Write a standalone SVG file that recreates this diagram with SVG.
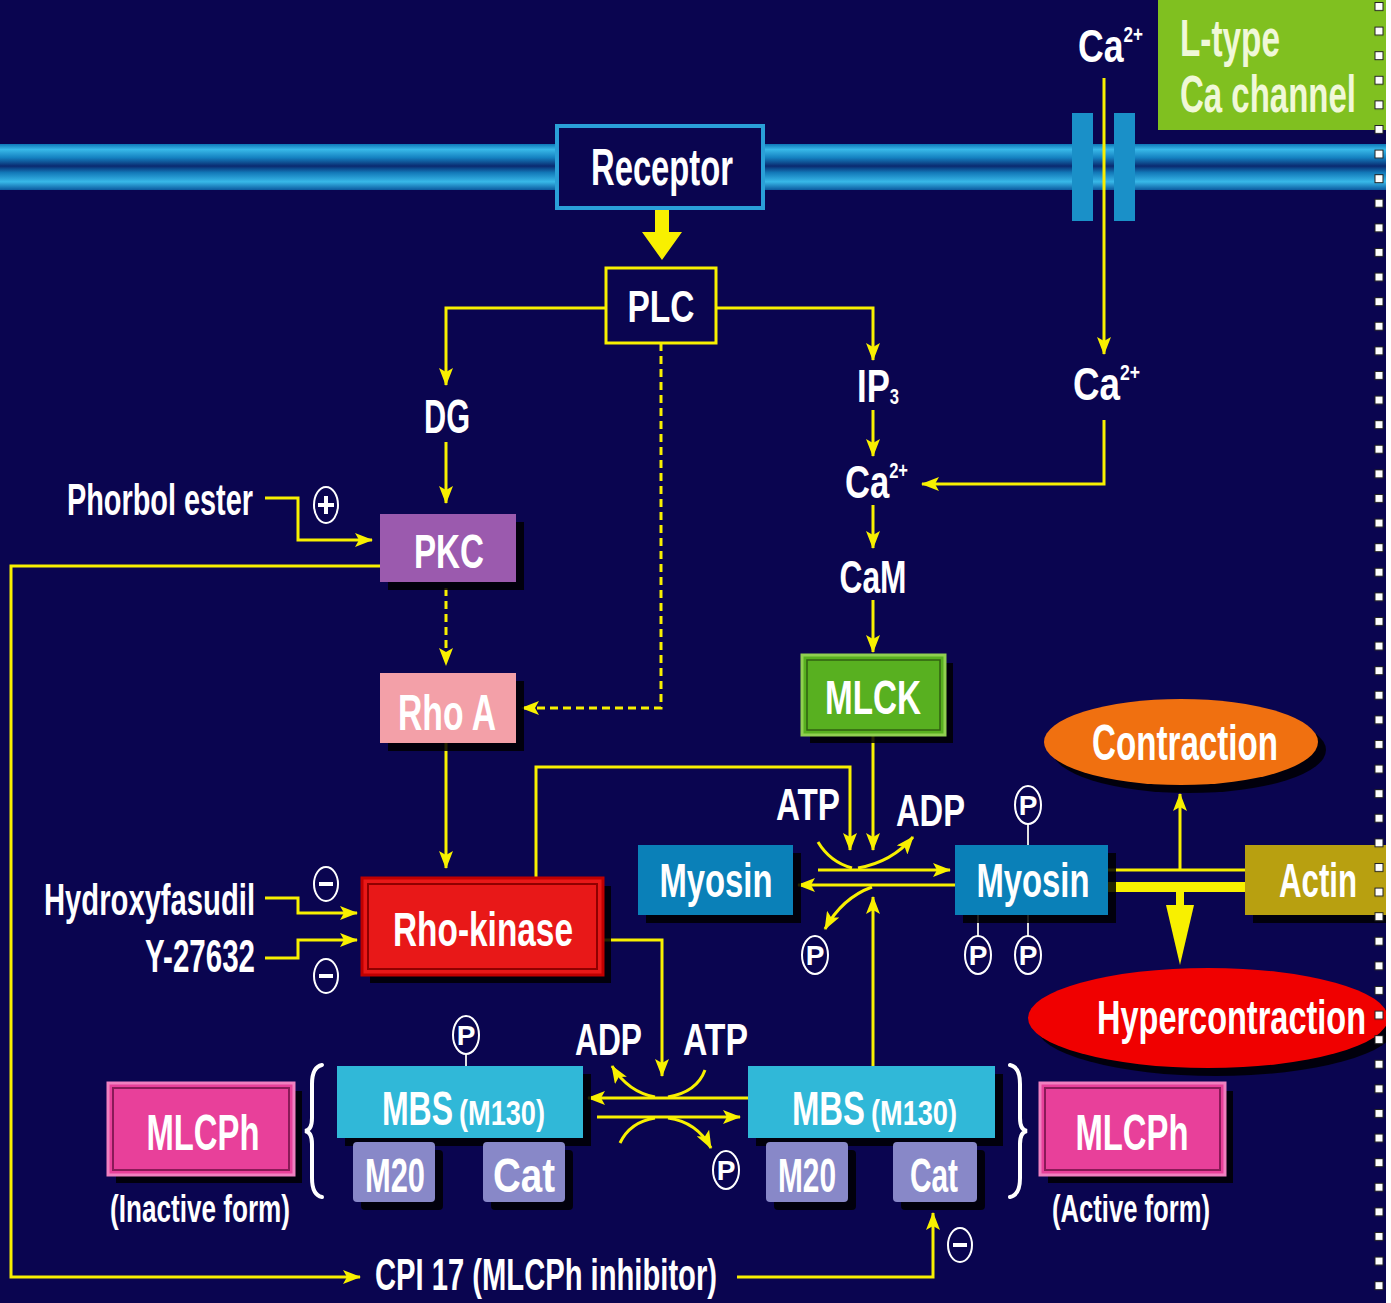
<svg xmlns="http://www.w3.org/2000/svg" width="1391" height="1303" viewBox="0 0 1391 1303">
<defs>
<linearGradient id="mem" x1="0" y1="0" x2="0" y2="1">
<stop offset="0" stop-color="#0e78b8"/>
<stop offset="0.12" stop-color="#38b8e8"/>
<stop offset="0.3" stop-color="#1480c0"/>
<stop offset="0.48" stop-color="#0a2a70"/>
<stop offset="0.62" stop-color="#1278b8"/>
<stop offset="0.82" stop-color="#38b8e8"/>
<stop offset="1" stop-color="#0c5aa0"/>
</linearGradient>
<pattern id="dots" x="1374" y="2" width="12" height="24.6" patternUnits="userSpaceOnUse">
<rect x="1" y="0.5" width="8" height="8" fill="#ffffff" stroke="#222222" stroke-width="1"/>
</pattern>
<clipPath id="clipMain"><rect x="0" y="0" width="1386" height="1303"/></clipPath>
<marker id="ah" viewBox="0 0 18 14" refX="17" refY="7" markerWidth="18" markerHeight="14" markerUnits="userSpaceOnUse" orient="auto">
<path d="M0,0 L18,7 L0,14 L4,7 z" fill="#f8f000"/>
</marker>
<style>
.bg{fill:#0a0550}
.t{font-family:"Liberation Sans Narrow","Liberation Sans",Arial,sans-serif;font-weight:bold;fill:#ffffff}
.c{text-anchor:middle}
.ln{fill:none;stroke:#f8f000;stroke-width:3}
.dash{stroke-dasharray:8 5}
.arr{marker-end:url(#ah)}
.sh{fill:#000000;opacity:0.85}
.pc{fill:#0a0550;stroke:#ffffff;stroke-width:2}
.pl{stroke:#e0e0e0;stroke-width:2}
.br{fill:none;stroke:#ffffff;stroke-width:4;stroke-linecap:round}
.mb{fill:#30b8d8}
.sub{fill:#8888c8}
.my{fill:#0a80b8}
</style>
</defs>
<rect class="bg" x="0" y="0" width="1391" height="1303"/>

<g clip-path="url(#clipMain)">
<g id="membrane">
<rect x="0" y="144" width="1386" height="46" fill="url(#mem)"/>
</g>

<g id="l-type-channel">
<rect x="1072" y="113" width="21" height="108" fill="#1a90c8"/>
<rect x="1114" y="113" width="21" height="108" fill="#1a90c8"/>
<rect x="1158" y="0" width="228" height="130" fill="#80c020"/>
<text class="t" x="1180" y="56" font-size="52" style="fill:#f0f8d8" textLength="100" lengthAdjust="spacingAndGlyphs">L-type</text>
<text class="t" x="1180" y="112" font-size="52" style="fill:#f0f8d8" textLength="176" lengthAdjust="spacingAndGlyphs">Ca channel</text>
</g>

<g id="connectors">
<polygon points="655,208 669,208 669,232 682,232 662,260 642,232 655,232" fill="#f8f000"/>
<polyline class="ln arr" points="605,308 446,308 446,385"/>
<line class="ln arr" x1="446" y1="442" x2="446" y2="503"/>
<polyline class="ln arr" points="716,308 873,308 873,360"/>
<line class="ln arr" x1="873" y1="410" x2="873" y2="456"/>
<line class="ln arr" x1="873" y1="505" x2="873" y2="548"/>
<line class="ln arr" x1="873" y1="600" x2="873" y2="652"/>
<line class="ln arr" x1="1104" y1="78" x2="1104" y2="354"/>
<polyline class="ln arr" points="1104,420 1104,484 922,484"/>
<polyline class="ln dash arr" points="661,343 661,708 522,708"/>
<polyline class="ln arr" points="265,498 298,498 298,540 372,540"/>
<polyline class="ln arr" points="380,566 11,566 11,1277 360,1277"/>
<line class="ln dash arr" x1="446" y1="588" x2="446" y2="665"/>
<line class="ln arr" x1="446" y1="743" x2="446" y2="868"/>
<polyline class="ln arr" points="265,898 298,898 298,913 357,913"/>
<polyline class="ln arr" points="265,958 298,958 298,940 357,940"/>
<polyline class="ln arr" points="536,878 536,767 850,767 850,850"/>
<line class="ln arr" x1="873" y1="735" x2="873" y2="850"/>
<polyline class="ln arr" points="603,940 662,940 662,1076"/>
<line class="ln arr" x1="873" y1="1066" x2="873" y2="897"/>
<line class="ln arr" x1="818" y1="870" x2="950" y2="870"/>
<line class="ln arr" x1="955" y1="885" x2="798" y2="885"/>
<path class="ln" d="M818,842 Q830,862 852,868"/>
<path class="ln arr" d="M858,868 Q892,862 913,837"/>
<path class="ln arr" d="M872,887 Q842,898 825,929"/>
<line class="ln" x1="1108" y1="870" x2="1245" y2="870"/>
<line x1="1108" y1="887" x2="1245" y2="887" stroke="#f8f000" stroke-width="10"/>
<line class="ln arr" x1="1180" y1="870" x2="1180" y2="794"/>
<rect x="1176" y="890" width="8" height="16" fill="#f8f000"/>
<polygon points="1166,905 1194,905 1180,965" fill="#f8f000"/>
<line class="ln arr" x1="748" y1="1098" x2="588" y2="1098"/>
<line class="ln arr" x1="597" y1="1117" x2="740" y2="1117"/>
<path class="ln" d="M705,1070 Q697,1092 668,1097"/>
<path class="ln arr" d="M655,1097 Q628,1092 612,1066"/>
<path class="ln" d="M620,1143 Q630,1122 655,1118"/>
<path class="ln arr" d="M668,1118 Q697,1122 711,1148"/>
<polyline class="ln arr" points="737,1277 933,1277 933,1213"/>
<line class="pl" x1="466" y1="1054" x2="466" y2="1066"/>
<line class="pl" x1="1028" y1="824" x2="1028" y2="845"/>
<line class="pl" x1="978" y1="915" x2="978" y2="936"/>
<line class="pl" x1="1028" y1="915" x2="1028" y2="936"/>
</g>

<g id="receptor">
<rect x="557" y="126" width="206" height="82" fill="#0a0550" stroke="#2aa0d8" stroke-width="4"/>
<text class="t c" x="662" y="185" font-size="52" textLength="142" lengthAdjust="spacingAndGlyphs">Receptor</text>
</g>

<g id="plc">
<rect x="606" y="268" width="110" height="75" fill="#0a0550" stroke="#f8f000" stroke-width="3"/>
<text class="t c" x="661" y="322" font-size="45" textLength="67" lengthAdjust="spacingAndGlyphs">PLC</text>
</g>

<g id="dg">
<text class="t c" x="447" y="433" font-size="48" textLength="46" lengthAdjust="spacingAndGlyphs">DG</text>
</g>

<g id="ip3">
<text class="t" x="857" y="402" font-size="46" textLength="42" lengthAdjust="spacingAndGlyphs">IP<tspan font-size="22" dy="2">3</tspan></text>
</g>

<g id="ca-mid">
<text class="t" x="845" y="498" font-size="46" textLength="63" lengthAdjust="spacingAndGlyphs">Ca<tspan font-size="22" dy="-20">2+</tspan></text>
</g>

<g id="cam">
<text class="t c" x="873" y="593" font-size="46" textLength="67" lengthAdjust="spacingAndGlyphs">CaM</text>
</g>

<g id="ca-top">
<text class="t" x="1078" y="62" font-size="46" textLength="65" lengthAdjust="spacingAndGlyphs">Ca<tspan font-size="22" dy="-20">2+</tspan></text>
</g>

<g id="ca-right">
<text class="t" x="1073" y="400" font-size="46" textLength="67" lengthAdjust="spacingAndGlyphs">Ca<tspan font-size="22" dy="-20">2+</tspan></text>
</g>

<g id="phorbol-ester">
<text class="t" x="67" y="515" font-size="44" textLength="186" lengthAdjust="spacingAndGlyphs">Phorbol ester</text>
<ellipse class="pc" cx="326" cy="505" rx="12" ry="18"/>
<rect x="318" y="503" width="16" height="4" fill="#ffffff"/>
<rect x="324" y="496" width="4" height="18" fill="#ffffff"/>
</g>

<g id="pkc">
<rect class="sh" x="388" y="522" width="136" height="68"/>
<rect x="380" y="514" width="136" height="68" fill="#9b5aae"/>
<text class="t c" x="449" y="568" font-size="48" textLength="70" lengthAdjust="spacingAndGlyphs">PKC</text>
</g>

<g id="rho-a">
<rect class="sh" x="388" y="681" width="136" height="70"/>
<rect x="380" y="673" width="136" height="70" fill="#f3a0a8"/>
<text class="t c" x="447" y="730" font-size="50" textLength="98" lengthAdjust="spacingAndGlyphs">Rho A</text>
</g>

<g id="mlck">
<rect class="sh" x="810" y="663" width="143" height="80"/>
<rect x="802" y="655" width="143" height="80" fill="#58b020" stroke="#90d050" stroke-width="3"/>
<rect x="807" y="660" width="133" height="70" fill="none" stroke="#306010" stroke-width="1.5"/>
<text class="t c" x="873" y="714" font-size="48" textLength="96" lengthAdjust="spacingAndGlyphs">MLCK</text>
</g>

<g id="hydroxyfasudil">
<text class="t" x="44" y="915" font-size="44" textLength="211" lengthAdjust="spacingAndGlyphs">Hydroxyfasudil</text>
<ellipse class="pc" cx="326" cy="884" rx="12" ry="17"/>
<rect x="319" y="882" width="14" height="4" fill="#ffffff"/>
</g>

<g id="y-27632">
<text class="t" x="145" y="972" font-size="46" textLength="110" lengthAdjust="spacingAndGlyphs">Y-27632</text>
<ellipse class="pc" cx="326" cy="976" rx="12" ry="17"/>
<rect x="319" y="974" width="14" height="4" fill="#ffffff"/>
</g>

<g id="rho-kinase">
<rect class="sh" x="370" y="886" width="241" height="97"/>
<rect x="362" y="878" width="241" height="97" fill="#e81818" stroke="#c00000" stroke-width="3"/>
<rect x="368" y="884" width="229" height="85" fill="none" stroke="#900000" stroke-width="2"/>
<text class="t c" x="483" y="946" font-size="48" textLength="180" lengthAdjust="spacingAndGlyphs">Rho-kinase</text>
</g>

<g id="atp-adp-top">
<text class="t" x="776" y="820" font-size="44" textLength="64" lengthAdjust="spacingAndGlyphs">ATP</text>
<text class="t" x="896" y="826" font-size="44" textLength="69" lengthAdjust="spacingAndGlyphs">ADP</text>
</g>

<g id="myosin-left">
<rect class="sh" x="646" y="853" width="155" height="70"/>
<rect class="my" x="638" y="845" width="155" height="70"/>
<text class="t c" x="716" y="897" font-size="48" textLength="113" lengthAdjust="spacingAndGlyphs">Myosin</text>
<ellipse class="pc" cx="815" cy="955" rx="13" ry="19"/>
<text class="t c" x="815" y="965" font-size="28">P</text>
</g>

<g id="myosin-right">
<rect class="sh" x="963" y="853" width="153" height="70"/>
<rect class="my" x="955" y="845" width="153" height="70"/>
<text class="t c" x="1033" y="897" font-size="48" textLength="113" lengthAdjust="spacingAndGlyphs">Myosin</text>
<ellipse class="pc" cx="1028" cy="805" rx="13" ry="19"/>
<text class="t c" x="1028" y="815" font-size="28">P</text>
<ellipse class="pc" cx="978" cy="955" rx="13" ry="19"/>
<text class="t c" x="978" y="965" font-size="28">P</text>
<ellipse class="pc" cx="1028" cy="955" rx="13" ry="19"/>
<text class="t c" x="1028" y="965" font-size="28">P</text>
</g>

<g id="actin">
<rect class="sh" x="1253" y="853" width="133" height="70"/>
<rect x="1245" y="845" width="141" height="70" fill="#b8a010"/>
<text class="t c" x="1318" y="897" font-size="48" textLength="78" lengthAdjust="spacingAndGlyphs">Actin</text>
</g>

<g id="contraction">
<ellipse cx="1189" cy="750" rx="137" ry="43" fill="#000000" opacity="0.85"/>
<ellipse cx="1181" cy="742" rx="137" ry="43" fill="#f07010"/>
<text class="t c" x="1185" y="760" font-size="50" textLength="186" lengthAdjust="spacingAndGlyphs">Contraction</text>
</g>

<g id="hypercontraction">
<ellipse cx="1216" cy="1026" rx="180" ry="50" fill="#000000" opacity="0.85"/>
<ellipse cx="1208" cy="1018" rx="180" ry="50" fill="#f00000"/>
<text class="t" x="1097" y="1034" font-size="48" textLength="269" lengthAdjust="spacingAndGlyphs">Hypercontraction</text>
</g>

<g id="atp-adp-bottom">
<text class="t" x="575" y="1055" font-size="44" textLength="67" lengthAdjust="spacingAndGlyphs">ADP</text>
<text class="t" x="683" y="1055" font-size="44" textLength="65" lengthAdjust="spacingAndGlyphs">ATP</text>
<ellipse class="pc" cx="726" cy="1170" rx="13" ry="19"/>
<text class="t c" x="726" y="1180" font-size="28">P</text>
</g>

<g id="mbs-inactive">
<path class="br" d="M322,1065 Q312,1067 312,1084 L312,1118 Q312,1130 305,1131 Q312,1132 312,1144 L312,1178 Q312,1195 322,1197"/>
<rect class="sh" x="345" y="1074" width="246" height="72"/>
<rect class="mb" x="337" y="1066" width="246" height="72"/>
<text class="t" x="382" y="1125" font-size="48" textLength="71" lengthAdjust="spacingAndGlyphs">MBS</text>
<text class="t" x="459" y="1125" font-size="35" textLength="86" lengthAdjust="spacingAndGlyphs">(M130)</text>
<rect class="sh" x="361" y="1150" width="82" height="60" rx="4"/>
<rect class="sub" x="353" y="1142" width="82" height="60" rx="4"/>
<text class="t c" x="395" y="1192" font-size="48" textLength="60" lengthAdjust="spacingAndGlyphs">M20</text>
<rect class="sh" x="491" y="1150" width="82" height="60" rx="4"/>
<rect class="sub" x="483" y="1142" width="82" height="60" rx="4"/>
<text class="t c" x="524" y="1192" font-size="48" textLength="62" lengthAdjust="spacingAndGlyphs">Cat</text>
<ellipse class="pc" cx="466" cy="1035" rx="13" ry="19"/>
<text class="t c" x="466" y="1045" font-size="28">P</text>
</g>

<g id="mbs-active">
<path class="br" d="M1010,1065 Q1020,1067 1020,1084 L1020,1118 Q1020,1130 1027,1131 Q1020,1132 1020,1144 L1020,1178 Q1020,1195 1010,1197"/>
<rect class="sh" x="756" y="1074" width="247" height="72"/>
<rect class="mb" x="748" y="1066" width="247" height="72"/>
<text class="t" x="792" y="1125" font-size="48" textLength="73" lengthAdjust="spacingAndGlyphs">MBS</text>
<text class="t" x="871" y="1125" font-size="35" textLength="86" lengthAdjust="spacingAndGlyphs">(M130)</text>
<rect class="sh" x="774" y="1150" width="82" height="60" rx="4"/>
<rect class="sub" x="766" y="1142" width="82" height="60" rx="4"/>
<text class="t c" x="807" y="1192" font-size="48" textLength="58" lengthAdjust="spacingAndGlyphs">M20</text>
<rect class="sh" x="901" y="1150" width="84" height="60" rx="4"/>
<rect class="sub" x="893" y="1142" width="84" height="60" rx="4"/>
<text class="t c" x="934" y="1192" font-size="48" textLength="48" lengthAdjust="spacingAndGlyphs">Cat</text>
</g>

<g id="mlcph-inactive">
<rect class="sh" x="116" y="1091" width="186" height="92"/>
<rect x="108" y="1083" width="186" height="92" fill="#e8409a" stroke="#f080c0" stroke-width="3"/>
<rect x="113" y="1088" width="176" height="82" fill="none" stroke="#8a1a58" stroke-width="2"/>
<text class="t c" x="203" y="1150" font-size="50" textLength="113" lengthAdjust="spacingAndGlyphs">MLCPh</text>
<text class="t c" x="200" y="1222" font-size="38" textLength="180" lengthAdjust="spacingAndGlyphs">(Inactive form)</text>
</g>

<g id="mlcph-active">
<rect class="sh" x="1048" y="1091" width="185" height="92"/>
<rect x="1040" y="1083" width="185" height="92" fill="#e8409a" stroke="#f080c0" stroke-width="3"/>
<rect x="1045" y="1088" width="175" height="82" fill="none" stroke="#8a1a58" stroke-width="2"/>
<text class="t c" x="1132" y="1150" font-size="50" textLength="113" lengthAdjust="spacingAndGlyphs">MLCPh</text>
<text class="t c" x="1131" y="1222" font-size="38" textLength="158" lengthAdjust="spacingAndGlyphs">(Active form)</text>
</g>

<g id="cpi17">
<text class="t" x="375" y="1290" font-size="44" textLength="342" lengthAdjust="spacingAndGlyphs">CPI 17 (MLCPh inhibitor)</text>
<ellipse class="pc" cx="960" cy="1245" rx="12" ry="17"/>
<rect x="953" y="1243" width="14" height="4" fill="#ffffff"/>
</g>
</g>

<g id="border">
<rect x="1374" y="0" width="12" height="1303" fill="url(#dots)"/>
<rect x="1386" y="0" width="5" height="1303" fill="#ffffff"/>
</g>
</svg>
